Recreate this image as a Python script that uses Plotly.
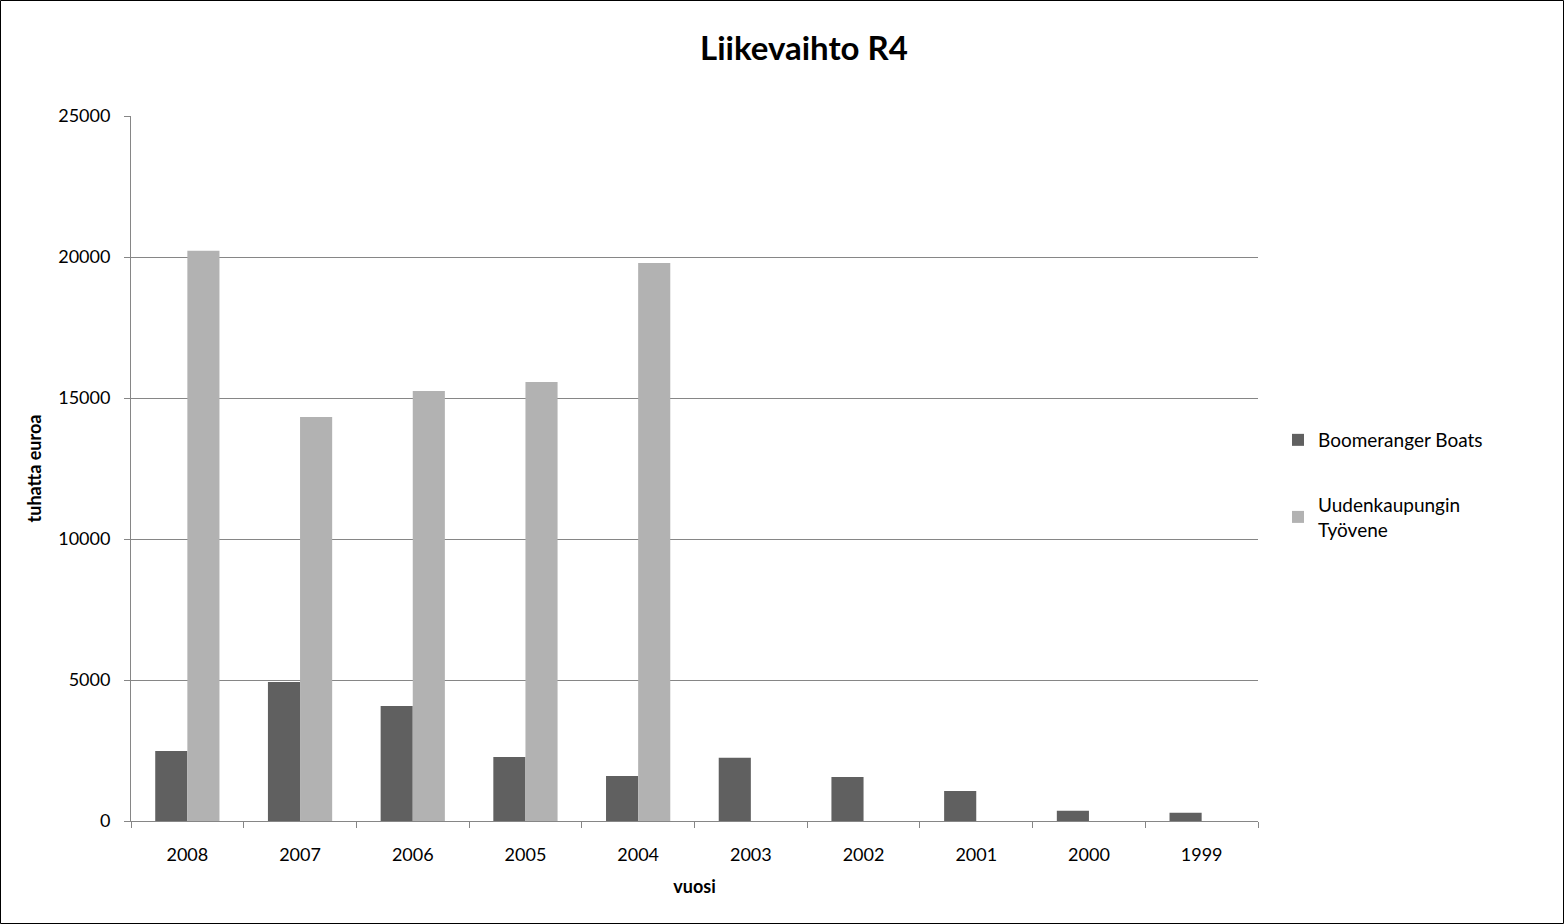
import plotly.graph_objects as go

years = ["2008", "2007", "2006", "2005", "2004", "2003", "2002", "2001", "2000", "1999"]
boomeranger = [2480, 4930, 4080, 2270, 1600, 2240, 1560, 1060, 360, 290]
uusikaupunki = [20220, 14330, 15250, 15570, 19790, None, None, None, None, None]

W, H = 1564, 924
L, R, T, B = 131, 1564 - 1258, 116, 924 - 821
pw, ph = W - L - R, H - T - B

font_family = "Lato, 'Open Sans', sans-serif"

fig = go.Figure()
fig.add_trace(go.Bar(x=years, y=boomeranger, name="Boomeranger Boats", legendgroup="a",
                     marker=dict(color="#606060", line=dict(width=0))))
fig.add_trace(go.Bar(x=years, y=uusikaupunki, name="Uudenkaupungin<br>Työvene", legendgroup="b",
                     marker=dict(color="#b2b2b2", line=dict(width=0))))

fig.update_layout(
    width=W, height=H,
    margin=dict(l=L, r=R, t=T, b=B, autoexpand=False),
    paper_bgcolor="white", plot_bgcolor="white",
    barmode="group", bargap=0.43, bargroupgap=0,
    font=dict(family=font_family, size=18, color="#000000"),
    title=dict(text="<b>Liikevaihto R4</b>", x=804 / W, xref="container", xanchor="center",
               y=1 - 48 / H, yanchor="middle",
               font=dict(size=33, family=font_family, color="#000000")),
    showlegend=True,
    legend=dict(x=(1278 - L) / pw, y=(H - B - 421) / ph, xanchor="left", yanchor="top",
                font=dict(size=19), itemsizing="constant", tracegroupgap=37,
                bgcolor="rgba(0,0,0,0)"),
    xaxis=dict(showline=True, linecolor="#868686", linewidth=1,
               ticks="outside", tickson="boundaries", ticklen=6, tickcolor="#868686",
               tickfont=dict(size=18), showgrid=False, ticklabelstandoff=17,
               title=dict(text="<b>vuosi</b>", font=dict(size=18), standoff=16)),
    yaxis=dict(range=[0, 25000], dtick=5000, tickformat="d", showline=True, linecolor="#868686", linewidth=1,
               ticks="outside", ticklen=6, tickcolor="#868686",
               showgrid=True, gridcolor="#868686", gridwidth=1, zeroline=False,
               tickfont=dict(size=18), ticklabelstandoff=10,
               title=dict(text="<b>tuhatta euroa</b>", font=dict(size=18), standoff=11)),
)

fig.add_shape(type="rect", xref="paper", yref="paper",
              x0=-L / pw + 0.5 / pw, x1=1 + R / pw - 0.5 / pw,
              y0=-B / ph + 0.5 / ph, y1=1 + T / ph - 0.5 / ph,
              line=dict(color="#000000", width=1), fillcolor="rgba(0,0,0,0)")

fig.write_html("out.html", config={"displayModeBar": False},
               post_script="document.body.style.margin='0';document.body.style.overflow='hidden';")
